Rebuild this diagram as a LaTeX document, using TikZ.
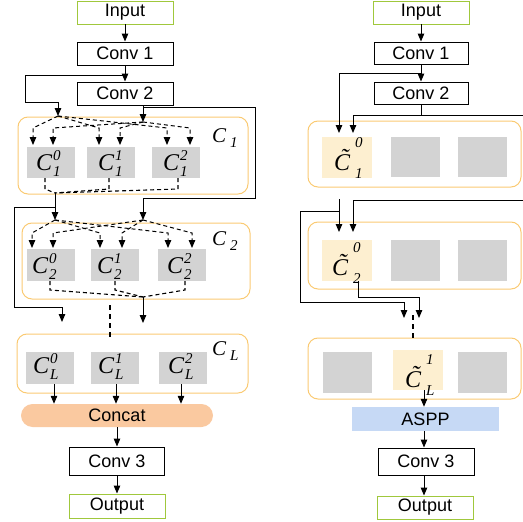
\documentclass[tikz,border=0pt]{standalone}
\usepackage{fontspec}
\setmainfont{Liberation Serif}
\setsansfont{Liberation Sans}
\usetikzlibrary{arrows.meta}

\definecolor{cellBorder}{RGB}{250,202,115}
\definecolor{cellGray}{RGB}{211,211,211}
\definecolor{ioGreen}{RGB}{160,200,60}
\definecolor{concatFill}{RGB}{250,201,160}
\definecolor{asppFill}{RGB}{198,217,245}
\definecolor{pickFill}{RGB}{253,239,208}

% italic labels for the cells
\newcommand{\bigC}{{\fontsize{24}{24}\selectfont\itshape C}}
\newcommand{\scr}[1]{{\fontsize{15}{15}\selectfont\itshape #1}}
\newcommand{\cellname}[2]{\bigC\hspace{1pt}\rlap{\raisebox{10pt}{\scr{#1}}}\raisebox{-6pt}{\scr{#2}}}
\newcommand{\pickname}[2]{{\fontsize{24}{24}\selectfont\itshape C^^^^0303}\hspace{5pt}\rlap{\raisebox{23pt}{\scr{#1}}}\raisebox{-8pt}{\scr{#2}}}
\newcommand{\groupname}[1]{{\fontsize{21}{21}\selectfont\itshape C}\hspace{4pt}\raisebox{-5pt}{\scr{#1}}}

\begin{document}
\begin{tikzpicture}[x=1pt,y=-1pt,
  box/.style={draw=black, line width=0.9pt, minimum width=96pt, minimum height=23pt,
    inner sep=0pt, font=\sffamily\fontsize{18}{20}\selectfont},
  iobox/.style={box, draw=ioGreen},
  group/.style={draw=cellBorder, line width=1pt, rounded corners=10pt, inner sep=0pt},
  graycell/.style={fill=cellGray, inner sep=0pt, minimum width=48pt, minimum height=31pt},
  pickcell/.style={fill=pickFill, inner sep=0pt, minimum width=50pt, minimum height=41pt},
  label/.style={anchor=base west, inner sep=0pt},
  arr/.style={-{Triangle[length=8pt,width=6.5pt]}, line width=1pt},
  ln/.style={line width=1pt},
  dsh/.style={dash pattern=on 4pt off 3pt, line width=1.1pt},
  dotline/.style={dash pattern=on 5pt off 4pt, line width=2pt}
]
\path[use as bounding box, clip] (0,0) rectangle (523,522);

%% ---------------- left network ----------------
\node[iobox] (inL) at (125,12.5) {Input};
\node[box] (c1L) at (125,53.5) {Conv 1};
\node[box] (c2L) at (125,93.5) {Conv 2};

% first cell group
\node[group, minimum width=230pt, minimum height=77pt] (g1L) at (133,155.5) {};
\node[label] at (212,142) {\groupname{1}};
\node[graycell] (a10) at (51,162.5) {};
\node[graycell] (a11) at (111,162.5) {};
\node[graycell] (a12) at (175.5,162.5) {};
\node[label] at (36,170) {\cellname{0}{1}};
\node[label] at (98,170) {\cellname{1}{1}};
\node[label] at (163,170) {\cellname{2}{1}};

% second cell group
\node[group, minimum width=228pt, minimum height=76pt] (g2L) at (136,261) {};
\node[label] at (212,245) {\groupname{2}};
\node[graycell, minimum height=32pt] (a20) at (51,265) {};
\node[graycell, minimum height=32pt] (a21) at (114.5,265) {};
\node[graycell, minimum height=32pt] (a22) at (181.5,265) {};
\node[label] at (32,273) {\cellname{0}{2}};
\node[label] at (97,273) {\cellname{1}{2}};
\node[label] at (167,273) {\cellname{2}{2}};

% last cell group
\node[group, minimum width=231pt, minimum height=59pt] (gLL) at (132.5,363.5) {};
\node[label] at (212,355) {\groupname{L}};
\node[graycell, minimum height=32pt] (aL0) at (50,368) {};
\node[graycell, minimum height=32pt] (aL1) at (115,368) {};
\node[graycell, minimum height=32pt] (aL2) at (182.5,368) {};
\node[label] at (33,373) {\cellname{0}{L}};
\node[label] at (98,373) {\cellname{1}{L}};
\node[label] at (168,373) {\cellname{2}{L}};

\node[fill=concatFill, rounded corners=11.5pt, minimum width=192pt, minimum height=23pt,
  inner sep=0pt, font=\sffamily\fontsize{18}{20}\selectfont] (cat) at (117,415.5) {Concat};
\node[box, minimum width=95pt, minimum height=28pt] (c3L) at (117,461) {Conv 3};
\node[iobox, minimum height=24pt] (outL) at (117,506) {Output};

% stem connectors
\coordinate (j1) at (125,75);
\coordinate (A1) at (58,116);
\coordinate (B1) at (143,122);
\coordinate (A2) at (55,220);
\coordinate (B2) at (143,220);
\coordinate (M1) at (55,193);
\coordinate (M2) at (143,297);
\coordinate (j2) at (55,207);
\coordinate (P1) at (62,322);
\coordinate (P2) at (143,323);

\draw[arr] (inL.south) -- (c1L.north);
\draw[arr] (c1L.south) -- (c2L.north);
\draw[arr] (j1) -| (25,102) -| (A1);
\draw[arr] (c2L.south -| B1) -- (B1);
\draw[arr] (143,107) -| (255,198) -| (B2);

% mixed inputs of the first group
\foreach \x in {33,99,167} \draw[dsh,arr] (A1) -- (\x,128) -- (\x,145);
\foreach \x in {53,120,190} \draw[dsh,arr] (B1) -- (\x,128) -- (\x,145);
\foreach \x in {45,109,178} \draw[dsh] (\x,178) -- (\x,189) -- (M1);
\draw[arr] (M1) -- (A2);
\draw[arr] (j2) -| (14,307) -| (P1);

% mixed inputs of the second group
\foreach \x in {32,100,168} \draw[dsh,arr] (A2) -- (\x,233) -- (\x,248);
\foreach \x in {53,122,192} \draw[dsh,arr] (B2) -- (\x,233) -- (\x,248);
\foreach \x in {50,115,185} \draw[dsh] (\x,281) -- (\x,290) -- (M2);
\draw[arr] (M2) -- (P2);
\draw[dotline] (110,305) -- (110,340);

% outputs of the last group
\draw[arr] ([xshift=4pt]aL0.south) -- ([xshift=4pt]aL0.south |- cat.north);
\draw[arr] ([xshift=1pt]aL1.south) -- ([xshift=1pt]aL1.south |- cat.north);
\draw[arr] ([xshift=-1.5pt]aL2.south) -- ([xshift=-1.5pt]aL2.south |- cat.north);
\draw[arr] (cat.south -| c3L.north) -- (c3L.north);
\draw[arr] (c3L.south) -- (outL.north);

%% ---------------- right network ----------------
\node[iobox] (inR) at (421,12.5) {Input};
\node[box, minimum width=94pt, minimum height=22pt] (c1R) at (421,53) {Conv 1};
\node[box, minimum width=94pt, minimum height=22pt] (c2R) at (421,93) {Conv 2};

\node[group, minimum width=213pt, minimum height=66pt] (g1R) at (414.5,154) {};
\node[pickcell] (b10) at (347,157.5) {};
\node[graycell, minimum width=49pt, minimum height=40pt] (b11) at (415.5,157) {};
\node[graycell, minimum width=49pt, minimum height=40pt] (b12) at (482.5,157) {};
\node[label] at (334,170) {\pickname{0}{1}};

\node[group, minimum width=213pt, minimum height=67pt] (g2R) at (414.5,255.5) {};
\node[pickcell] (b20) at (347,260.5) {};
\node[graycell, minimum width=49pt, minimum height=41pt] (b21) at (415.5,260.5) {};
\node[graycell, minimum width=49pt, minimum height=41pt] (b22) at (482.5,260.5) {};
\node[label] at (332,275) {\pickname{0}{2}};

\node[group, minimum width=213pt, minimum height=61pt] (gLR) at (414.5,368.5) {};
\node[graycell, minimum width=49pt, minimum height=41pt] (bL0) at (347.5,372.5) {};
\node[pickcell, minimum height=40pt] (bL1) at (418,370) {};
\node[graycell, minimum width=49pt, minimum height=41pt] (bL2) at (482.5,372.5) {};
\node[label] at (405,387) {\pickname{1}{L}};

\node[fill=asppFill, minimum width=147pt, minimum height=24pt, inner sep=0pt,
  font=\sffamily\fontsize{18}{20}\selectfont] (aspp) at (425.5,419) {ASPP};
\node[box, minimum height=27pt] (c3R) at (426,461.5) {Conv 3};
\node[iobox] (outR) at (425,507.5) {Output};

\coordinate (jR1) at (421,73);
\coordinate (jR2) at (421,115);
\coordinate (R1a) at (339,133);
\coordinate (R1b) at (353,133);
\coordinate (R2a) at (339,232);
\coordinate (R2b) at (353,232);
\coordinate (jR3) at (339,211);
\coordinate (RLa) at (404,318);
\coordinate (RLb) at (419,318);

\draw[arr] (inR.south) -- (c1R.north);
\draw[arr] (c1R.south) -- (c2R.north);
\draw[arr] (jR1) -| (R1a);
\draw[arr] (c2R.south) -- (jR2) -| (R1b);
\draw[ln] (jR2) -- (526,115) -- (526,200);
\draw[arr] (526,200) -| (R2b);
\draw[arr] (339,199) -- (R2a);
\draw[arr] (jR3) -| (300,302) -| (RLa);
\draw[arr] ([xshift=11pt]b20.south) -- ++(0,16) -| (RLb);
\draw[dotline] (413,315) -- (413,340);
\draw[arr] ([xshift=6pt]bL1.south) -- ([xshift=6pt]bL1.south |- aspp.north);
\draw[arr] ([xshift=-1.5pt]aspp.south) -- ([xshift=-1.5pt]aspp.south |- c3R.north);
\draw[arr] ([xshift=-2pt]c3R.south) -- ([xshift=-2pt]c3R.south |- outR.north);
\end{tikzpicture}
\end{document}
